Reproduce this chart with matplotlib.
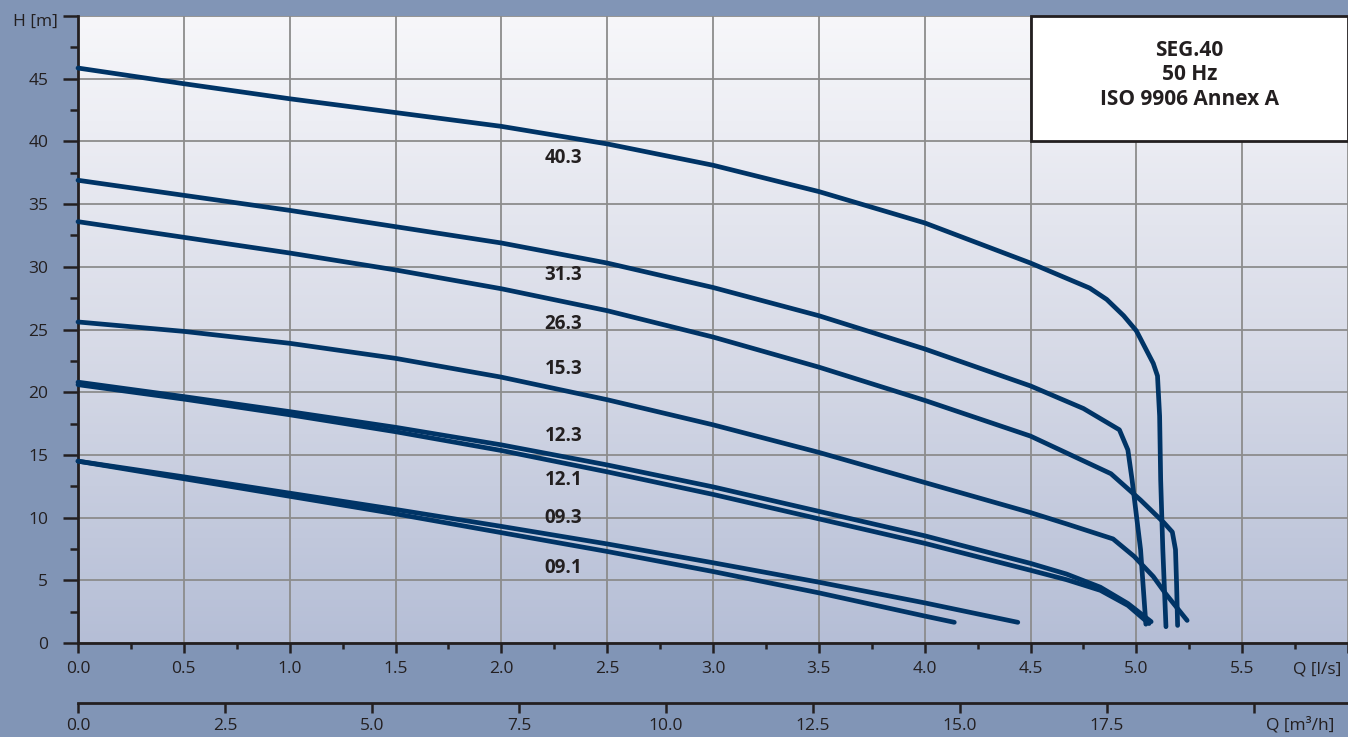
import matplotlib
matplotlib.use('Agg')
import matplotlib.pyplot as plt
import numpy as np
from matplotlib.colors import LinearSegmentedColormap
from matplotlib.patches import Rectangle
from matplotlib.ticker import FixedLocator, FixedFormatter

plt.rcParams['font.family'] = ['Open Sans', 'DejaVu Sans']

# pump curves, Q in l/s, H in m
q_40_3 = [0, 0.5, 1.0, 1.5, 2.0, 2.5, 3.0, 3.5, 4.0, 4.5, 4.78, 4.86, 4.94, 5.0, 5.08, 5.10, 5.11, 5.115, 5.125, 5.14]
h_40_3 = [45.85, 44.6, 43.4, 42.3, 41.2, 39.8, 38.1, 36.0, 33.5, 30.3, 28.3, 27.4, 26.1, 24.9, 22.3, 21.3, 18.1, 13.0, 7.5, 1.3]

q_31_3 = [0, 0.5, 1.0, 1.5, 2.0, 2.5, 3.0, 3.5, 4.0, 4.5, 4.75, 4.92, 4.96, 4.98, 5.02, 5.045]
h_31_3 = [36.9, 35.7, 34.5, 33.2, 31.9, 30.3, 28.35, 26.1, 23.45, 20.5, 18.7, 17.0, 15.4, 13.0, 7.45, 1.5]

q_26_3 = [0, 0.5, 1.0, 1.5, 2.0, 2.5, 3.0, 3.5, 4.0, 4.5, 4.88, 5.02, 5.13, 5.17, 5.185, 5.19, 5.195]
h_26_3 = [33.6, 32.35, 31.1, 29.75, 28.25, 26.5, 24.4, 22.0, 19.35, 16.5, 13.5, 11.4, 9.6, 8.85, 7.45, 4.8, 1.4]

q_15_3 = [0, 0.5, 1.0, 1.5, 2.0, 2.5, 3.0, 3.5, 4.0, 4.5, 4.67, 4.89, 4.99, 5.08, 5.14, 5.24]
h_15_3 = [25.6, 24.85, 23.9, 22.7, 21.2, 19.4, 17.4, 15.2, 12.8, 10.4, 9.5, 8.3, 6.9, 5.3, 3.9, 1.8]

q_12_3 = [0, 0.5, 1.0, 1.5, 2.0, 2.5, 3.0, 3.5, 4.0, 4.5, 4.67, 4.83, 4.96, 5.07]
h_12_3 = [20.8, 19.65, 18.45, 17.2, 15.8, 14.2, 12.45, 10.5, 8.55, 6.35, 5.5, 4.45, 3.15, 1.7]

q_12_1 = [0, 0.5, 1.0, 1.5, 2.0, 2.5, 3.0, 3.5, 4.0, 4.5, 4.67, 4.83, 4.96, 5.06]
h_12_1 = [20.6, 19.45, 18.2, 16.85, 15.35, 13.65, 11.85, 9.9, 7.95, 5.8, 5.05, 4.2, 3.0, 1.55]

q_09_3 = [0, 0.5, 1.0, 1.5, 2.0, 2.5, 3.0, 3.5, 4.0, 4.44]
h_09_3 = [14.5, 13.25, 11.95, 10.65, 9.3, 7.9, 6.4, 4.85, 3.2, 1.65]

q_09_1 = [0, 0.5, 1.0, 1.5, 2.0, 2.5, 3.0, 3.5, 4.0, 4.14]
h_09_1 = [14.5, 13.1, 11.7, 10.3, 8.8, 7.3, 5.7, 4.0, 2.15, 1.65]

label_names = ['40.3', '31.3', '26.3', '15.3', '12.3', '12.1', '09.3', '09.1']
label_h = [38.65, 29.35, 25.4, 21.85, 16.5, 13.0, 9.96, 5.98]
label_q = 2.205

title_lines = ['SEG.40', '50 Hz', 'ISO 9906 Annex A']

x_ticks = [0.0, 0.5, 1.0, 1.5, 2.0, 2.5, 3.0, 3.5, 4.0, 4.5, 5.0, 5.5]
m3h_ticks = [0.0, 2.5, 5.0, 7.5, 10.0, 12.5, 15.0, 17.5, 20.0]

curve_col = '#003466'
text_col = '#231F20'

fig = plt.figure(figsize=(13.48, 7.37), dpi=100, facecolor='#8195B6')
ax = fig.add_axes([78 / 1348, 1 - 643 / 737, 1 - 78 / 1348, (643 - 16) / 737])

# background gradient
cmap = LinearSegmentedColormap.from_list('bg', ['#F7F7FA', '#D9DCE8', '#B5BED6'])
ax.imshow(np.linspace(0, 1, 256).reshape(-1, 1), cmap=cmap, extent=[0, 1, 0, 1],
          transform=ax.transAxes, aspect='auto', zorder=0)

ax.set_xlim(0, 6.0)
ax.set_ylim(0, 50)

ax.set_axisbelow(True)
ax.xaxis.set_major_locator(FixedLocator(x_ticks + [6.0]))
ax.xaxis.set_major_formatter(FixedFormatter(['%.1f' % t for t in x_ticks] + ['']))
ax.xaxis.set_minor_locator(FixedLocator(np.arange(0.25, 6.0, 0.5)))
ax.yaxis.set_major_locator(FixedLocator(np.arange(0, 51, 5)))
ax.yaxis.set_major_formatter(FixedFormatter([str(v) for v in range(0, 50, 5)] + ['']))
ax.yaxis.set_minor_locator(FixedLocator(np.arange(2.5, 50, 5)))
ax.grid(True, which='major', color='#8C8C8C', lw=1.3)

for s in ['top', 'right']:
    ax.spines[s].set_visible(False)
for s in ['left', 'bottom']:
    ax.spines[s].set_linewidth(2)
    ax.spines[s].set_color(text_col)

ax.tick_params(axis='y', which='major', length=11, width=1.8, pad=10.5,
               labelsize=12.5, labelcolor=text_col, color=text_col)
ax.tick_params(axis='y', which='minor', length=6, width=1.8, color=text_col)
ax.tick_params(axis='x', which='major', length=7.5, width=1.8, pad=5.5,
               labelsize=12.5, labelcolor=text_col, color=text_col)
ax.tick_params(axis='x', which='minor', length=4.5, width=1.8, color=text_col)

# second flow axis in m3/h
ax2 = ax.secondary_xaxis(-60 / 627, functions=(lambda q: q * 3.6, lambda m: m / 3.6))
ax2.xaxis.set_major_locator(FixedLocator(m3h_ticks))
ax2.xaxis.set_major_formatter(FixedFormatter(['%.1f' % t for t in m3h_ticks[:-1]] + ['']))
ax2.spines['bottom'].set_linewidth(2)
ax2.spines['bottom'].set_color(text_col)
ax2.tick_params(axis='x', which='major', length=7.5, width=1.8, pad=3.5,
                labelsize=12.5, labelcolor=text_col, color=text_col)

curves = [(q_40_3, h_40_3), (q_31_3, h_31_3), (q_26_3, h_26_3), (q_15_3, h_15_3),
          (q_12_3, h_12_3), (q_12_1, h_12_1), (q_09_3, h_09_3), (q_09_1, h_09_1)]
for q, h in curves:
    ax.plot(q, h, color=curve_col, lw=3.4, solid_capstyle='round',
            solid_joinstyle='round', zorder=3, clip_on=False)

for name, h in zip(label_names, label_h):
    ax.text(label_q, h, name, ha='left', va='center', fontsize=13.5,
            fontweight='bold', color=text_col, zorder=4)

# title box
ax.add_patch(Rectangle((4.5, 40), 1.5, 10, facecolor='white', edgecolor=text_col,
                       lw=2, zorder=5, clip_on=False))
for h, line in zip([47.23, 45.3, 43.35], title_lines):
    ax.text(5.25, h, line, ha='center', va='center', fontsize=15,
            fontweight='bold', color=text_col, zorder=6)

fig.text(58 / 1348, 1 - 22 / 737, 'H [m]', ha='right', va='center',
         fontsize=12.5, color=text_col)
fig.text(1293 / 1348, 1 - 670 / 737, 'Q [l/s]', ha='left', va='center',
         fontsize=12.5, color=text_col)
fig.text(1266 / 1348, 1 - 725 / 737, 'Q [m³/h]', ha='left', va='center',
         fontsize=12.5, color=text_col)

fig.savefig('out.png', dpi=100, facecolor=fig.get_facecolor())
